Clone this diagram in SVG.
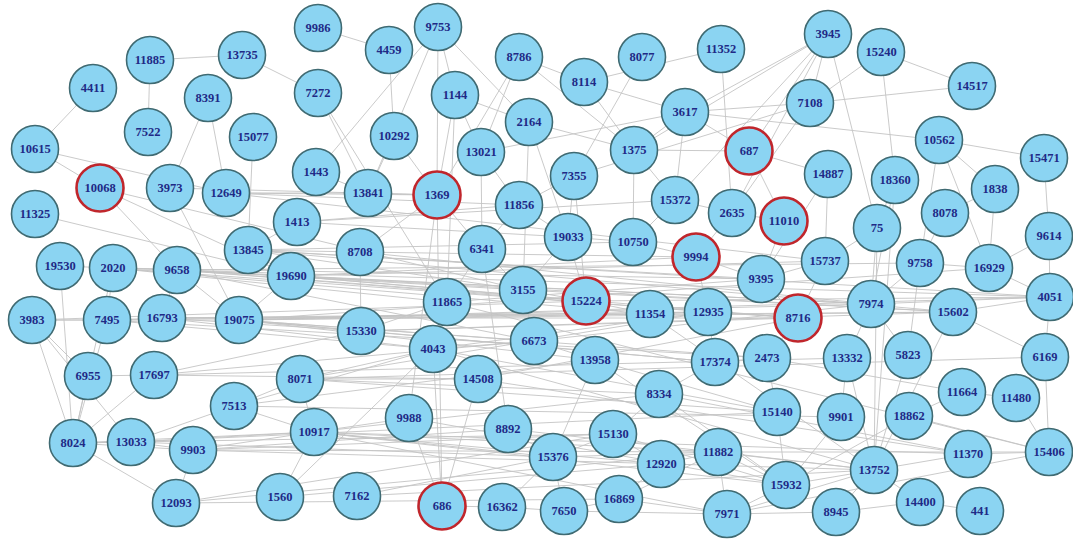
<svg xmlns="http://www.w3.org/2000/svg" width="1073" height="539" viewBox="0 0 1073 539">
<style>
.e line{stroke:#c4c4c4;stroke-width:0.9}
.n circle{fill:#8bd4f2;stroke:#3f6a72;stroke-width:1.6}
.r circle{stroke:#c0262c;stroke-width:2.6}
.n text{font-family:"Liberation Serif","Times New Roman",serif;font-size:12.5px;font-weight:bold;fill:#1f2a86;text-anchor:middle}
</style>
<rect width="1073" height="539" fill="#ffffff"/>
<g id="edges" class="e">
<line x1="150" y1="60" x2="242" y2="55"/><line x1="150" y1="60" x2="148" y2="132"/><line x1="242" y1="55" x2="318" y2="93"/>
<line x1="93" y1="88" x2="35" y2="149"/><line x1="35" y1="149" x2="226" y2="193"/><line x1="35" y1="149" x2="100" y2="188"/>
<line x1="208" y1="98" x2="170" y2="188"/><line x1="208" y1="98" x2="226" y2="193"/><line x1="253" y1="137" x2="248" y2="250"/>
<line x1="318" y1="28" x2="389" y2="50"/><line x1="318" y1="93" x2="368" y2="193"/><line x1="318" y1="93" x2="447" y2="302"/>
<line x1="316" y1="172" x2="438" y2="27"/><line x1="438" y1="27" x2="455" y2="95"/><line x1="438" y1="27" x2="529" y2="122"/>
<line x1="438" y1="27" x2="437" y2="195"/><line x1="438" y1="27" x2="368" y2="193"/><line x1="389" y1="50" x2="394" y2="136"/>
<line x1="519" y1="57" x2="481" y2="152"/><line x1="519" y1="57" x2="437" y2="195"/><line x1="519" y1="57" x2="584" y2="82"/>
<line x1="519" y1="57" x2="634" y2="150"/><line x1="584" y1="82" x2="634" y2="150"/><line x1="584" y1="82" x2="685" y2="112"/>
<line x1="642" y1="57" x2="574" y2="176"/><line x1="685" y1="112" x2="634" y2="150"/><line x1="685" y1="112" x2="675" y2="200"/>
<line x1="481" y1="152" x2="685" y2="112"/><line x1="529" y1="122" x2="634" y2="150"/><line x1="394" y1="136" x2="437" y2="195"/>
<line x1="394" y1="136" x2="368" y2="193"/><line x1="455" y1="95" x2="529" y2="122"/><line x1="455" y1="95" x2="481" y2="152"/>
<line x1="455" y1="95" x2="437" y2="195"/><line x1="455" y1="95" x2="447" y2="302"/>
<line x1="828" y1="34" x2="810" y2="103"/><line x1="828" y1="34" x2="749" y2="151"/><line x1="828" y1="34" x2="685" y2="112"/>
<line x1="828" y1="34" x2="675" y2="200"/><line x1="828" y1="34" x2="634" y2="150"/><line x1="828" y1="34" x2="877" y2="228"/>
<line x1="828" y1="34" x2="732" y2="213"/><line x1="881" y1="52" x2="810" y2="103"/><line x1="881" y1="52" x2="972" y2="86"/>
<line x1="881" y1="52" x2="895" y2="180"/><line x1="972" y1="86" x2="810" y2="103"/><line x1="685" y1="112" x2="939" y2="140"/>
<line x1="939" y1="140" x2="1044" y2="158"/><line x1="749" y1="151" x2="828" y2="174"/><line x1="749" y1="151" x2="784" y2="221"/>
<line x1="721" y1="49" x2="732" y2="213"/><line x1="810" y1="103" x2="685" y2="112"/><line x1="810" y1="103" x2="732" y2="213"/>
<line x1="749" y1="151" x2="685" y2="112"/><line x1="749" y1="151" x2="634" y2="150"/><line x1="939" y1="140" x2="920" y2="263"/>
<line x1="939" y1="140" x2="989" y2="268"/><line x1="721" y1="49" x2="584" y2="82"/><line x1="810" y1="103" x2="574" y2="176"/>
<line x1="100" y1="188" x2="177" y2="270"/><line x1="100" y1="188" x2="291" y2="276"/><line x1="35" y1="214" x2="291" y2="276"/>
<line x1="177" y1="270" x2="586" y2="301"/><line x1="177" y1="270" x2="871" y2="304"/><line x1="177" y1="270" x2="708" y2="312"/>
<line x1="177" y1="270" x2="523" y2="290"/><line x1="177" y1="270" x2="534" y2="341"/><line x1="113" y1="268" x2="447" y2="302"/>
<line x1="113" y1="268" x2="650" y2="314"/><line x1="113" y1="268" x2="761" y2="279"/><line x1="162" y1="318" x2="361" y2="331"/>
<line x1="162" y1="318" x2="433" y2="349"/><line x1="162" y1="318" x2="953" y2="312"/><line x1="162" y1="318" x2="798" y2="318"/>
<line x1="239" y1="320" x2="361" y2="331"/><line x1="239" y1="320" x2="534" y2="341"/><line x1="239" y1="320" x2="767" y2="358"/>
<line x1="239" y1="320" x2="871" y2="304"/><line x1="239" y1="320" x2="1050" y2="297"/><line x1="239" y1="320" x2="650" y2="314"/>
<line x1="239" y1="320" x2="595" y2="360"/><line x1="239" y1="320" x2="715" y2="362"/><line x1="107" y1="320" x2="32" y2="320"/>
<line x1="107" y1="320" x2="162" y2="318"/><line x1="107" y1="320" x2="433" y2="349"/><line x1="107" y1="320" x2="708" y2="312"/>
<line x1="32" y1="320" x2="239" y2="320"/><line x1="32" y1="320" x2="73" y2="443"/><line x1="32" y1="320" x2="88" y2="376"/>
<line x1="32" y1="320" x2="131" y2="442"/><line x1="60" y1="266" x2="113" y2="268"/><line x1="60" y1="266" x2="73" y2="443"/>
<line x1="291" y1="276" x2="586" y2="301"/><line x1="291" y1="276" x2="696" y2="257"/><line x1="291" y1="276" x2="798" y2="318"/>
<line x1="291" y1="276" x2="871" y2="304"/><line x1="248" y1="250" x2="523" y2="290"/><line x1="248" y1="250" x2="633" y2="242"/>
<line x1="248" y1="250" x2="953" y2="312"/><line x1="248" y1="250" x2="1050" y2="297"/><line x1="297" y1="222" x2="568" y2="237"/>
<line x1="297" y1="222" x2="675" y2="200"/><line x1="297" y1="222" x2="519" y2="205"/><line x1="226" y1="193" x2="437" y2="195"/>
<line x1="226" y1="193" x2="368" y2="193"/><line x1="226" y1="193" x2="519" y2="205"/><line x1="226" y1="193" x2="825" y2="261"/>
<line x1="170" y1="188" x2="239" y2="320"/><line x1="170" y1="188" x2="437" y2="195"/><line x1="100" y1="188" x2="523" y2="290"/>
<line x1="88" y1="376" x2="154" y2="375"/><line x1="88" y1="376" x2="73" y2="443"/><line x1="154" y1="375" x2="73" y2="443"/>
<line x1="154" y1="375" x2="534" y2="341"/><line x1="154" y1="375" x2="478" y2="379"/><line x1="154" y1="375" x2="361" y2="331"/>
<line x1="73" y1="443" x2="131" y2="442"/><line x1="73" y1="443" x2="193" y2="450"/><line x1="73" y1="443" x2="176" y2="503"/>
<line x1="73" y1="443" x2="314" y2="432"/><line x1="131" y1="442" x2="193" y2="450"/><line x1="131" y1="442" x2="314" y2="432"/>
<line x1="131" y1="442" x2="553" y2="457"/><line x1="193" y1="450" x2="176" y2="503"/><line x1="193" y1="450" x2="314" y2="432"/>
<line x1="193" y1="450" x2="508" y2="429"/><line x1="193" y1="450" x2="613" y2="434"/><line x1="234" y1="406" x2="300" y2="379"/>
<line x1="234" y1="406" x2="314" y2="432"/><line x1="234" y1="406" x2="131" y2="442"/><line x1="234" y1="406" x2="433" y2="349"/>
<line x1="234" y1="406" x2="595" y2="360"/><line x1="300" y1="379" x2="314" y2="432"/><line x1="300" y1="379" x2="433" y2="349"/>
<line x1="300" y1="379" x2="478" y2="379"/><line x1="300" y1="379" x2="659" y2="394"/><line x1="300" y1="379" x2="708" y2="312"/>
<line x1="314" y1="432" x2="409" y2="418"/><line x1="314" y1="432" x2="553" y2="457"/><line x1="314" y1="432" x2="661" y2="464"/>
<line x1="314" y1="432" x2="659" y2="394"/><line x1="314" y1="432" x2="718" y2="452"/><line x1="176" y1="503" x2="718" y2="452"/>
<line x1="176" y1="503" x2="619" y2="499"/><line x1="280" y1="497" x2="314" y2="432"/><line x1="280" y1="497" x2="433" y2="349"/>
<line x1="357" y1="496" x2="553" y2="457"/><line x1="357" y1="496" x2="874" y2="470"/><line x1="442" y1="506" x2="433" y2="349"/>
<line x1="442" y1="506" x2="437" y2="195"/><line x1="442" y1="506" x2="502" y2="507"/><line x1="442" y1="506" x2="409" y2="418"/>
<line x1="442" y1="506" x2="478" y2="379"/><line x1="502" y1="507" x2="564" y2="511"/><line x1="502" y1="507" x2="553" y2="457"/>
<line x1="564" y1="511" x2="619" y2="499"/><line x1="564" y1="511" x2="553" y2="457"/><line x1="564" y1="511" x2="727" y2="514"/>
<line x1="619" y1="499" x2="718" y2="452"/><line x1="619" y1="499" x2="661" y2="464"/><line x1="619" y1="499" x2="727" y2="514"/>
<line x1="553" y1="457" x2="613" y2="434"/><line x1="553" y1="457" x2="508" y2="429"/><line x1="553" y1="457" x2="718" y2="452"/>
<line x1="553" y1="457" x2="595" y2="360"/><line x1="613" y1="434" x2="661" y2="464"/><line x1="613" y1="434" x2="659" y2="394"/>
<line x1="613" y1="434" x2="786" y2="485"/><line x1="661" y1="464" x2="718" y2="452"/><line x1="659" y1="394" x2="715" y2="362"/>
<line x1="659" y1="394" x2="786" y2="485"/><line x1="659" y1="394" x2="968" y2="454"/><line x1="718" y1="452" x2="786" y2="485"/>
<line x1="718" y1="452" x2="727" y2="514"/><line x1="718" y1="452" x2="874" y2="470"/><line x1="727" y1="514" x2="786" y2="485"/>
<line x1="727" y1="514" x2="836" y2="512"/><line x1="727" y1="514" x2="874" y2="470"/><line x1="727" y1="514" x2="1049" y2="452"/>
<line x1="836" y1="512" x2="920" y2="502"/><line x1="836" y1="512" x2="874" y2="470"/><line x1="920" y1="502" x2="980" y2="511"/>
<line x1="920" y1="502" x2="874" y2="470"/><line x1="874" y1="470" x2="786" y2="485"/><line x1="874" y1="470" x2="968" y2="454"/>
<line x1="874" y1="470" x2="847" y2="358"/><line x1="874" y1="470" x2="908" y2="355"/><line x1="874" y1="470" x2="953" y2="312"/>
<line x1="968" y1="454" x2="1049" y2="452"/><line x1="1049" y1="452" x2="1016" y2="398"/><line x1="1049" y1="452" x2="1045" y2="357"/>
<line x1="1049" y1="452" x2="909" y2="416"/><line x1="1049" y1="452" x2="718" y2="452"/><line x1="962" y1="392" x2="1016" y2="398"/>
<line x1="962" y1="392" x2="909" y2="416"/><line x1="962" y1="392" x2="767" y2="358"/><line x1="909" y1="416" x2="786" y2="485"/>
<line x1="841" y1="417" x2="847" y2="358"/><line x1="841" y1="417" x2="786" y2="485"/><line x1="777" y1="412" x2="786" y2="485"/>
<line x1="777" y1="412" x2="767" y2="358"/><line x1="777" y1="412" x2="595" y2="360"/><line x1="777" y1="412" x2="433" y2="349"/>
<line x1="767" y1="358" x2="715" y2="362"/><line x1="767" y1="358" x2="798" y2="318"/><line x1="847" y1="358" x2="871" y2="304"/>
<line x1="908" y1="355" x2="871" y2="304"/><line x1="908" y1="355" x2="920" y2="263"/><line x1="1045" y1="357" x2="1050" y2="297"/>
<line x1="1045" y1="357" x2="953" y2="312"/><line x1="1050" y1="297" x2="989" y2="268"/><line x1="1050" y1="297" x2="1049" y2="236"/>
<line x1="1050" y1="297" x2="871" y2="304"/><line x1="1050" y1="297" x2="953" y2="312"/><line x1="989" y1="268" x2="920" y2="263"/>
<line x1="989" y1="268" x2="995" y2="189"/><line x1="989" y1="268" x2="1049" y2="236"/><line x1="920" y1="263" x2="945" y2="213"/>
<line x1="920" y1="263" x2="871" y2="304"/><line x1="877" y1="228" x2="871" y2="304"/><line x1="877" y1="228" x2="825" y2="261"/>
<line x1="825" y1="261" x2="798" y2="318"/><line x1="825" y1="261" x2="761" y2="279"/><line x1="761" y1="279" x2="798" y2="318"/>
<line x1="761" y1="279" x2="696" y2="257"/><line x1="761" y1="279" x2="784" y2="221"/><line x1="784" y1="221" x2="732" y2="213"/>
<line x1="945" y1="213" x2="995" y2="189"/><line x1="995" y1="189" x2="939" y2="140"/><line x1="1049" y1="236" x2="1044" y2="158"/>
<line x1="895" y1="180" x2="877" y2="228"/><line x1="895" y1="180" x2="871" y2="304"/><line x1="895" y1="180" x2="874" y2="470"/>
<line x1="877" y1="228" x2="874" y2="470"/><line x1="828" y1="174" x2="825" y2="261"/><line x1="828" y1="174" x2="761" y2="279"/>
<line x1="732" y1="213" x2="696" y2="257"/><line x1="732" y1="213" x2="675" y2="200"/><line x1="675" y1="200" x2="633" y2="242"/>
<line x1="633" y1="242" x2="696" y2="257"/><line x1="633" y1="242" x2="568" y2="237"/><line x1="568" y1="237" x2="519" y2="205"/>
<line x1="568" y1="237" x2="586" y2="301"/><line x1="568" y1="237" x2="523" y2="290"/><line x1="519" y1="205" x2="482" y2="249"/>
<line x1="482" y1="249" x2="437" y2="195"/><line x1="482" y1="249" x2="447" y2="302"/><line x1="482" y1="249" x2="523" y2="290"/>
<line x1="523" y1="290" x2="586" y2="301"/><line x1="586" y1="301" x2="650" y2="314"/><line x1="650" y1="314" x2="708" y2="312"/>
<line x1="708" y1="312" x2="798" y2="318"/><line x1="708" y1="312" x2="696" y2="257"/><line x1="715" y1="362" x2="708" y2="312"/>
<line x1="595" y1="360" x2="534" y2="341"/><line x1="534" y1="341" x2="433" y2="349"/><line x1="534" y1="341" x2="523" y2="290"/>
<line x1="433" y1="349" x2="447" y2="302"/><line x1="447" y1="302" x2="361" y2="331"/><line x1="361" y1="331" x2="360" y2="252"/>
<line x1="360" y1="252" x2="437" y2="195"/><line x1="360" y1="252" x2="248" y2="250"/><line x1="368" y1="193" x2="437" y2="195"/>
<line x1="368" y1="193" x2="316" y2="172"/><line x1="297" y1="222" x2="248" y2="250"/><line x1="248" y1="250" x2="291" y2="276"/>
<line x1="291" y1="276" x2="239" y2="320"/><line x1="177" y1="270" x2="162" y2="318"/><line x1="113" y1="268" x2="177" y2="270"/>
<line x1="113" y1="268" x2="107" y2="320"/><line x1="177" y1="270" x2="239" y2="320"/><line x1="574" y1="176" x2="586" y2="301"/>
<line x1="574" y1="176" x2="568" y2="237"/><line x1="574" y1="176" x2="519" y2="205"/><line x1="634" y1="150" x2="633" y2="242"/>
<line x1="634" y1="150" x2="675" y2="200"/><line x1="481" y1="152" x2="519" y2="205"/><line x1="481" y1="152" x2="482" y2="249"/>
<line x1="529" y1="122" x2="523" y2="290"/><line x1="529" y1="122" x2="568" y2="237"/><line x1="113" y1="268" x2="1050" y2="297"/>
<line x1="177" y1="270" x2="953" y2="312"/><line x1="239" y1="320" x2="989" y2="268"/><line x1="239" y1="320" x2="953" y2="312"/>
<line x1="32" y1="320" x2="586" y2="301"/><line x1="107" y1="320" x2="767" y2="358"/><line x1="113" y1="268" x2="798" y2="318"/>
<line x1="162" y1="318" x2="708" y2="312"/><line x1="177" y1="270" x2="920" y2="263"/><line x1="248" y1="250" x2="761" y2="279"/>
<line x1="291" y1="276" x2="825" y2="261"/><line x1="360" y1="252" x2="871" y2="304"/><line x1="361" y1="331" x2="798" y2="318"/>
<line x1="361" y1="331" x2="953" y2="312"/><line x1="433" y1="349" x2="708" y2="312"/><line x1="447" y1="302" x2="761" y2="279"/>
<line x1="73" y1="443" x2="113" y2="268"/><line x1="73" y1="443" x2="107" y2="320"/><line x1="176" y1="503" x2="613" y2="434"/>
<line x1="280" y1="497" x2="661" y2="464"/><line x1="193" y1="450" x2="718" y2="452"/><line x1="131" y1="442" x2="777" y2="412"/>
<line x1="73" y1="443" x2="613" y2="434"/><line x1="314" y1="432" x2="786" y2="485"/><line x1="314" y1="432" x2="727" y2="514"/>
<line x1="234" y1="406" x2="841" y2="417"/><line x1="300" y1="379" x2="777" y2="412"/><line x1="154" y1="375" x2="847" y2="358"/>
<line x1="361" y1="331" x2="715" y2="362"/><line x1="433" y1="349" x2="874" y2="470"/><line x1="409" y1="418" x2="786" y2="485"/>
<line x1="508" y1="429" x2="874" y2="470"/><line x1="478" y1="379" x2="968" y2="454"/><line x1="478" y1="379" x2="798" y2="318"/>
<line x1="409" y1="418" x2="437" y2="195"/><line x1="508" y1="429" x2="482" y2="249"/><line x1="595" y1="360" x2="786" y2="485"/>
<line x1="534" y1="341" x2="871" y2="304"/><line x1="650" y1="314" x2="874" y2="470"/><line x1="586" y1="301" x2="1050" y2="297"/>
<line x1="523" y1="290" x2="953" y2="312"/><line x1="360" y1="252" x2="696" y2="257"/><line x1="447" y1="302" x2="1049" y2="452"/>
<line x1="314" y1="432" x2="968" y2="454"/><line x1="193" y1="450" x2="874" y2="470"/><line x1="300" y1="379" x2="1045" y2="357"/>
</g>
<g id="n9986" class="n"><circle cx="318" cy="28" r="23.5"/><text x="318" y="32">9986</text></g>
<g id="n4459" class="n"><circle cx="389" cy="50" r="23.5"/><text x="389" y="54">4459</text></g>
<g id="n9753" class="n"><circle cx="438" cy="27" r="23.5"/><text x="438" y="31">9753</text></g>
<g id="n11885" class="n"><circle cx="150" cy="60" r="23.5"/><text x="150" y="64">11885</text></g>
<g id="n13735" class="n"><circle cx="242" cy="55" r="23.5"/><text x="242" y="59">13735</text></g>
<g id="n4411" class="n"><circle cx="93" cy="88" r="23.5"/><text x="93" y="92">4411</text></g>
<g id="n8391" class="n"><circle cx="208" cy="98" r="23.5"/><text x="208" y="102">8391</text></g>
<g id="n7272" class="n"><circle cx="318" cy="93" r="23.5"/><text x="318" y="97">7272</text></g>
<g id="n7522" class="n"><circle cx="148" cy="132" r="23.5"/><text x="148" y="136">7522</text></g>
<g id="n15077" class="n"><circle cx="253" cy="137" r="23.5"/><text x="253" y="141">15077</text></g>
<g id="n10615" class="n"><circle cx="35" cy="149" r="23.5"/><text x="35" y="153">10615</text></g>
<g id="n1443" class="n"><circle cx="316" cy="172" r="23.5"/><text x="316" y="176">1443</text></g>
<g id="n8786" class="n"><circle cx="519" cy="57" r="23.5"/><text x="519" y="61">8786</text></g>
<g id="n8114" class="n"><circle cx="584" cy="82" r="23.5"/><text x="584" y="86">8114</text></g>
<g id="n8077" class="n"><circle cx="642" cy="57" r="23.5"/><text x="642" y="61">8077</text></g>
<g id="n1144" class="n"><circle cx="455" cy="95" r="23.5"/><text x="455" y="99">1144</text></g>
<g id="n2164" class="n"><circle cx="529" cy="122" r="23.5"/><text x="529" y="126">2164</text></g>
<g id="n3617" class="n"><circle cx="685" cy="112" r="23.5"/><text x="685" y="116">3617</text></g>
<g id="n10292" class="n"><circle cx="394" cy="136" r="23.5"/><text x="394" y="140">10292</text></g>
<g id="n13021" class="n"><circle cx="481" cy="152" r="23.5"/><text x="481" y="156">13021</text></g>
<g id="n1375" class="n"><circle cx="634" cy="150" r="23.5"/><text x="634" y="154">1375</text></g>
<g id="n7355" class="n"><circle cx="574" cy="176" r="23.5"/><text x="574" y="180">7355</text></g>
<g id="n11352" class="n"><circle cx="721" cy="49" r="23.5"/><text x="721" y="53">11352</text></g>
<g id="n3945" class="n"><circle cx="828" cy="34" r="23.5"/><text x="828" y="38">3945</text></g>
<g id="n15240" class="n"><circle cx="881" cy="52" r="23.5"/><text x="881" y="56">15240</text></g>
<g id="n14517" class="n"><circle cx="972" cy="86" r="23.5"/><text x="972" y="90">14517</text></g>
<g id="n7108" class="n"><circle cx="810" cy="103" r="23.5"/><text x="810" y="107">7108</text></g>
<g id="n10562" class="n"><circle cx="939" cy="140" r="23.5"/><text x="939" y="144">10562</text></g>
<g id="n687" class="n r"><circle cx="749" cy="151" r="23.5"/><text x="749" y="155">687</text></g>
<g id="n15471" class="n"><circle cx="1044" cy="158" r="23.5"/><text x="1044" y="162">15471</text></g>
<g id="n14887" class="n"><circle cx="828" cy="174" r="23.5"/><text x="828" y="178">14887</text></g>
<g id="n18360" class="n"><circle cx="895" cy="180" r="23.5"/><text x="895" y="184">18360</text></g>
<g id="n10068" class="n r"><circle cx="100" cy="188" r="23.5"/><text x="100" y="192">10068</text></g>
<g id="n3973" class="n"><circle cx="170" cy="188" r="23.5"/><text x="170" y="192">3973</text></g>
<g id="n12649" class="n"><circle cx="226" cy="193" r="23.5"/><text x="226" y="197">12649</text></g>
<g id="n11325" class="n"><circle cx="35" cy="214" r="23.5"/><text x="35" y="218">11325</text></g>
<g id="n1413" class="n"><circle cx="297" cy="222" r="23.5"/><text x="297" y="226">1413</text></g>
<g id="n13845" class="n"><circle cx="248" cy="250" r="23.5"/><text x="248" y="254">13845</text></g>
<g id="n19530" class="n"><circle cx="60" cy="266" r="23.5"/><text x="60" y="270">19530</text></g>
<g id="n2020" class="n"><circle cx="113" cy="268" r="23.5"/><text x="113" y="272">2020</text></g>
<g id="n9658" class="n"><circle cx="177" cy="270" r="23.5"/><text x="177" y="274">9658</text></g>
<g id="n19690" class="n"><circle cx="291" cy="276" r="23.5"/><text x="291" y="280">19690</text></g>
<g id="n3983" class="n"><circle cx="32" cy="320" r="23.5"/><text x="32" y="324">3983</text></g>
<g id="n7495" class="n"><circle cx="107" cy="320" r="23.5"/><text x="107" y="324">7495</text></g>
<g id="n16793" class="n"><circle cx="162" cy="318" r="23.5"/><text x="162" y="322">16793</text></g>
<g id="n19075" class="n"><circle cx="239" cy="320" r="23.5"/><text x="239" y="324">19075</text></g>
<g id="n13841" class="n"><circle cx="368" cy="193" r="23.5"/><text x="368" y="197">13841</text></g>
<g id="n1369" class="n r"><circle cx="437" cy="195" r="23.5"/><text x="437" y="199">1369</text></g>
<g id="n11856" class="n"><circle cx="519" cy="205" r="23.5"/><text x="519" y="209">11856</text></g>
<g id="n15372" class="n"><circle cx="675" cy="200" r="23.5"/><text x="675" y="204">15372</text></g>
<g id="n8708" class="n"><circle cx="360" cy="252" r="23.5"/><text x="360" y="256">8708</text></g>
<g id="n6341" class="n"><circle cx="482" cy="249" r="23.5"/><text x="482" y="253">6341</text></g>
<g id="n19033" class="n"><circle cx="568" cy="237" r="23.5"/><text x="568" y="241">19033</text></g>
<g id="n10750" class="n"><circle cx="633" cy="242" r="23.5"/><text x="633" y="246">10750</text></g>
<g id="n9994" class="n r"><circle cx="696" cy="257" r="23.5"/><text x="696" y="261">9994</text></g>
<g id="n3155" class="n"><circle cx="523" cy="290" r="23.5"/><text x="523" y="294">3155</text></g>
<g id="n15224" class="n r"><circle cx="586" cy="301" r="23.5"/><text x="586" y="305">15224</text></g>
<g id="n11865" class="n"><circle cx="447" cy="302" r="23.5"/><text x="447" y="306">11865</text></g>
<g id="n11354" class="n"><circle cx="650" cy="314" r="23.5"/><text x="650" y="318">11354</text></g>
<g id="n12935" class="n"><circle cx="708" cy="312" r="23.5"/><text x="708" y="316">12935</text></g>
<g id="n15330" class="n"><circle cx="361" cy="331" r="23.5"/><text x="361" y="335">15330</text></g>
<g id="n4043" class="n"><circle cx="433" cy="349" r="23.5"/><text x="433" y="353">4043</text></g>
<g id="n6673" class="n"><circle cx="534" cy="341" r="23.5"/><text x="534" y="345">6673</text></g>
<g id="n13958" class="n"><circle cx="595" cy="360" r="23.5"/><text x="595" y="364">13958</text></g>
<g id="n2635" class="n"><circle cx="732" cy="213" r="23.5"/><text x="732" y="217">2635</text></g>
<g id="n11010" class="n r"><circle cx="784" cy="221" r="23.5"/><text x="784" y="225">11010</text></g>
<g id="n75" class="n"><circle cx="877" cy="228" r="23.5"/><text x="877" y="232">75</text></g>
<g id="n8078" class="n"><circle cx="945" cy="213" r="23.5"/><text x="945" y="217">8078</text></g>
<g id="n1838" class="n"><circle cx="995" cy="189" r="23.5"/><text x="995" y="193">1838</text></g>
<g id="n9614" class="n"><circle cx="1049" cy="236" r="23.5"/><text x="1049" y="240">9614</text></g>
<g id="n15737" class="n"><circle cx="825" cy="261" r="23.5"/><text x="825" y="265">15737</text></g>
<g id="n9395" class="n"><circle cx="761" cy="279" r="23.5"/><text x="761" y="283">9395</text></g>
<g id="n9758" class="n"><circle cx="920" cy="263" r="23.5"/><text x="920" y="267">9758</text></g>
<g id="n16929" class="n"><circle cx="989" cy="268" r="23.5"/><text x="989" y="272">16929</text></g>
<g id="n4051" class="n"><circle cx="1050" cy="297" r="23.5"/><text x="1050" y="301">4051</text></g>
<g id="n7974" class="n"><circle cx="871" cy="304" r="23.5"/><text x="871" y="308">7974</text></g>
<g id="n8716" class="n r"><circle cx="798" cy="318" r="23.5"/><text x="798" y="322">8716</text></g>
<g id="n15602" class="n"><circle cx="953" cy="312" r="23.5"/><text x="953" y="316">15602</text></g>
<g id="n17374" class="n"><circle cx="715" cy="362" r="23.5"/><text x="715" y="366">17374</text></g>
<g id="n2473" class="n"><circle cx="767" cy="358" r="23.5"/><text x="767" y="362">2473</text></g>
<g id="n13332" class="n"><circle cx="847" cy="358" r="23.5"/><text x="847" y="362">13332</text></g>
<g id="n5823" class="n"><circle cx="908" cy="355" r="23.5"/><text x="908" y="359">5823</text></g>
<g id="n6169" class="n"><circle cx="1045" cy="357" r="23.5"/><text x="1045" y="361">6169</text></g>
<g id="n6955" class="n"><circle cx="88" cy="376" r="23.5"/><text x="88" y="380">6955</text></g>
<g id="n17697" class="n"><circle cx="154" cy="375" r="23.5"/><text x="154" y="379">17697</text></g>
<g id="n8071" class="n"><circle cx="300" cy="379" r="23.5"/><text x="300" y="383">8071</text></g>
<g id="n7513" class="n"><circle cx="234" cy="406" r="23.5"/><text x="234" y="410">7513</text></g>
<g id="n8024" class="n"><circle cx="73" cy="443" r="23.5"/><text x="73" y="447">8024</text></g>
<g id="n13033" class="n"><circle cx="131" cy="442" r="23.5"/><text x="131" y="446">13033</text></g>
<g id="n9903" class="n"><circle cx="193" cy="450" r="23.5"/><text x="193" y="454">9903</text></g>
<g id="n10917" class="n"><circle cx="314" cy="432" r="23.5"/><text x="314" y="436">10917</text></g>
<g id="n12093" class="n"><circle cx="176" cy="503" r="23.5"/><text x="176" y="507">12093</text></g>
<g id="n1560" class="n"><circle cx="280" cy="497" r="23.5"/><text x="280" y="501">1560</text></g>
<g id="n7162" class="n"><circle cx="357" cy="496" r="23.5"/><text x="357" y="500">7162</text></g>
<g id="n14508" class="n"><circle cx="478" cy="379" r="23.5"/><text x="478" y="383">14508</text></g>
<g id="n8334" class="n"><circle cx="659" cy="394" r="23.5"/><text x="659" y="398">8334</text></g>
<g id="n9988" class="n"><circle cx="409" cy="418" r="23.5"/><text x="409" y="422">9988</text></g>
<g id="n8892" class="n"><circle cx="508" cy="429" r="23.5"/><text x="508" y="433">8892</text></g>
<g id="n15130" class="n"><circle cx="613" cy="434" r="23.5"/><text x="613" y="438">15130</text></g>
<g id="n15376" class="n"><circle cx="553" cy="457" r="23.5"/><text x="553" y="461">15376</text></g>
<g id="n12920" class="n"><circle cx="661" cy="464" r="23.5"/><text x="661" y="468">12920</text></g>
<g id="n686" class="n r"><circle cx="442" cy="506" r="23.5"/><text x="442" y="510">686</text></g>
<g id="n16362" class="n"><circle cx="502" cy="507" r="23.5"/><text x="502" y="511">16362</text></g>
<g id="n7650" class="n"><circle cx="564" cy="511" r="23.5"/><text x="564" y="515">7650</text></g>
<g id="n16869" class="n"><circle cx="619" cy="499" r="23.5"/><text x="619" y="503">16869</text></g>
<g id="n11882" class="n"><circle cx="718" cy="452" r="23.5"/><text x="718" y="456">11882</text></g>
<g id="n15140" class="n"><circle cx="777" cy="412" r="23.5"/><text x="777" y="416">15140</text></g>
<g id="n9901" class="n"><circle cx="841" cy="417" r="23.5"/><text x="841" y="421">9901</text></g>
<g id="n18862" class="n"><circle cx="909" cy="416" r="23.5"/><text x="909" y="420">18862</text></g>
<g id="n11664" class="n"><circle cx="962" cy="392" r="23.5"/><text x="962" y="396">11664</text></g>
<g id="n11480" class="n"><circle cx="1016" cy="398" r="23.5"/><text x="1016" y="402">11480</text></g>
<g id="n11370" class="n"><circle cx="968" cy="454" r="23.5"/><text x="968" y="458">11370</text></g>
<g id="n15406" class="n"><circle cx="1049" cy="452" r="23.5"/><text x="1049" y="456">15406</text></g>
<g id="n13752" class="n"><circle cx="874" cy="470" r="23.5"/><text x="874" y="474">13752</text></g>
<g id="n15932" class="n"><circle cx="786" cy="485" r="23.5"/><text x="786" y="489">15932</text></g>
<g id="n14400" class="n"><circle cx="920" cy="502" r="23.5"/><text x="920" y="506">14400</text></g>
<g id="n441" class="n"><circle cx="980" cy="511" r="23.5"/><text x="980" y="515">441</text></g>
<g id="n8945" class="n"><circle cx="836" cy="512" r="23.5"/><text x="836" y="516">8945</text></g>
<g id="n7971" class="n"><circle cx="727" cy="514" r="23.5"/><text x="727" y="518">7971</text></g>
</svg>
